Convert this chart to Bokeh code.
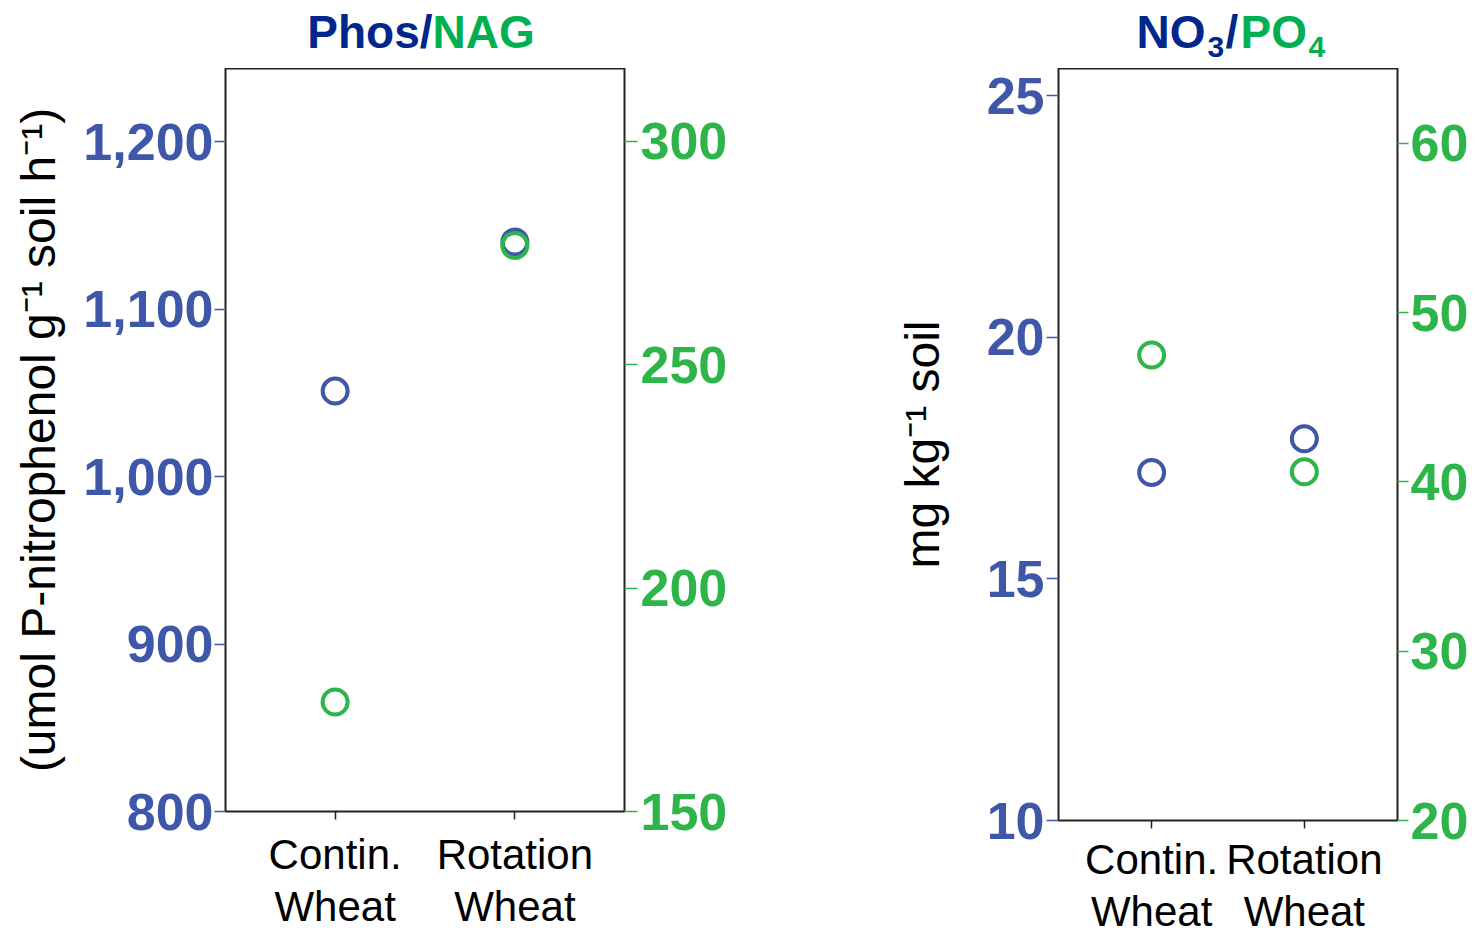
from bokeh.plotting import figure
from bokeh.models import Range1d, LinearAxis, FixedTicker, NumeralTickFormatter, ColumnDataSource
from bokeh.layouts import row, column
from bokeh.core.properties import value
from bokeh.embed import file_html
from bokeh.resources import INLINE

# ---------------- data ----------------
categories = ["Contin.\nWheat", "Rotation\nWheat"]
cat_pos = [1, 2]

phos = [1051, 1140]          # umol P-nitrophenol g-1 soil h-1 (left axis)
nag = [174.5, 276.7]         # right axis
phos_ticks = [800, 900, 1000, 1100, 1200]
nag_ticks = [150, 200, 250, 300]

no3 = [17.2, 17.9]           # mg kg-1 soil (left axis)
po4 = [47.5, 40.6]           # right axis
no3_ticks = [10, 15, 20, 25]
po4_ticks = [20, 30, 40, 50, 60]

title1_parts = ["Phos/", "NAG"]
title2_parts = ["NO", "3", "/", "PO", "4"]

BLUE = "#3F57A8"
GREEN = "#2DB54A"
T_BLUE = "#00288C"
T_GREEN = "#00B050"
FONT = "Liberation Sans"

W1, W2, TH = 740, 736, 68


def style_y_axis(ax, color, ticks, tick_out, standoff):
    ax.ticker = FixedTicker(ticks=ticks)
    ax.formatter = NumeralTickFormatter(format="0,0")
    ax.axis_line_color = None
    ax.major_tick_line_color = color
    ax.major_tick_line_width = 1.5
    ax.major_tick_in = 0
    ax.major_tick_out = tick_out
    ax.minor_tick_line_color = None
    ax.major_label_text_color = color
    ax.major_label_text_font = FONT
    ax.major_label_text_font_style = "bold"
    ax.major_label_text_font_size = "52px"
    ax.major_label_standoff = standoff


def style_x_axis(ax, standoff, lh):
    ax.ticker = FixedTicker(ticks=cat_pos)
    ax.major_label_overrides = {p: c for p, c in zip(cat_pos, categories)}
    ax.axis_line_color = None
    ax.major_tick_line_color = "#222222"
    ax.major_tick_line_width = 1.5
    ax.major_tick_in = 0
    ax.major_tick_out = 8
    ax.minor_tick_line_color = None
    ax.major_label_text_color = "black"
    ax.major_label_text_font = FONT
    ax.major_label_text_font_size = "42px"
    ax.major_label_text_line_height = lh
    ax.major_label_standoff = standoff


def make_fig(fw, fh, bl, br, bb, yr):
    p = figure(frame_width=fw, frame_height=fh, min_border_left=bl, min_border_right=br,
               min_border_top=0, min_border_bottom=bb, x_range=Range1d(0.39, 2.61),
               y_range=yr, output_backend="svg", toolbar_location=None, title=None)
    p.xgrid.visible = False
    p.ygrid.visible = False
    p.outline_line_color = "#222222"
    p.outline_line_width = 2
    p.background_fill_color = "white"
    p.border_fill_color = "white"
    return p


def title_fig(width, xs, ys, texts, colors, sizes, aligns):
    t = figure(width=width, height=TH, min_border=0, x_range=Range1d(0, width),
               y_range=Range1d(0, TH), x_axis_location=None, y_axis_location=None,
               output_backend="svg", toolbar_location=None, title=None)
    t.xgrid.visible = False
    t.ygrid.visible = False
    t.outline_line_color = None
    src = ColumnDataSource(dict(x=xs, y=ys, text=texts, color=colors, size=sizes, align=aligns))
    t.text("x", "y", text="text", source=src, text_color="color", text_font_size="size",
           text_align="align", text_baseline="middle", text_font=value(FONT),
           text_font_style="bold")
    return t


# ---------------- titles ----------------
t1 = title_fig(W1, [432, 432], [37, 37], title1_parts, [T_BLUE, T_GREEN],
               ["46px", "46px"], ["right", "left"])
t2 = title_fig(W2, [465, 467, 485, 500, 568], [37, 22, 37, 37, 22], title2_parts,
               [T_BLUE, T_BLUE, T_BLUE, T_GREEN, T_GREEN],
               ["46px", "30px", "46px", "46px", "30px"],
               ["right", "left", "left", "left", "left"])

# ---------------- left panel ----------------
p1 = make_fig(399, 743, 225, 116, 123, Range1d(800, 1243.6))
p1.extra_y_ranges = {"nag": Range1d(150, 316.3)}
style_y_axis(p1.yaxis[0], BLUE, phos_ticks, 11, 1)
p1.yaxis[0].axis_label = "(umol P-nitrophenol g\u207b\u00b9 soil h\u207b\u00b9)"
p1.yaxis[0].axis_label_text_font = FONT
p1.yaxis[0].axis_label_text_font_style = "normal"
p1.yaxis[0].axis_label_text_font_size = "48px"
p1.yaxis[0].axis_label_text_color = "black"
p1.yaxis[0].axis_label_standoff = 15
ax_r1 = LinearAxis(y_range_name="nag")
style_y_axis(ax_r1, GREEN, nag_ticks, 13, 3)
p1.add_layout(ax_r1, "right")
style_x_axis(p1.xaxis[0], 11, 1.12)

src1 = ColumnDataSource(dict(x=cat_pos, phos=phos, nag=nag))
p1.scatter("x", "phos", source=src1, marker="circle", size=25, fill_color=None,
           line_color=BLUE, line_width=4)
p1.scatter("x", "nag", source=src1, marker="circle", size=25, fill_color=None,
           line_color=GREEN, line_width=4, y_range_name="nag")

# ---------------- right panel ----------------
p2 = make_fig(339, 752, 318, 79, 114, Range1d(10, 25.56))
p2.extra_y_ranges = {"po4": Range1d(20, 64.43)}
style_y_axis(p2.yaxis[0], BLUE, no3_ticks, 12, 2)
p2.yaxis[0].axis_label = "mg kg\u207b\u00b9 soil"
p2.yaxis[0].axis_label_text_font = FONT
p2.yaxis[0].axis_label_text_font_style = "normal"
p2.yaxis[0].axis_label_text_font_size = "48px"
p2.yaxis[0].axis_label_text_color = "black"
p2.yaxis[0].axis_label_standoff = 35
ax_r2 = LinearAxis(y_range_name="po4")
style_y_axis(ax_r2, GREEN, po4_ticks, 11, 2)
p2.add_layout(ax_r2, "right")
style_x_axis(p2.xaxis[0], 7, 1.12)

src2 = ColumnDataSource(dict(x=cat_pos, no3=no3, po4=po4))
p2.scatter("x", "no3", source=src2, marker="circle", size=25, fill_color=None,
           line_color=BLUE, line_width=4)
p2.scatter("x", "po4", source=src2, marker="circle", size=25, fill_color=None,
           line_color=GREEN, line_width=4, y_range_name="po4")

layout = column(row(t1, t2), row(p1, p2), spacing=0)
open("out.html", "w").write(file_html(layout, INLINE))
